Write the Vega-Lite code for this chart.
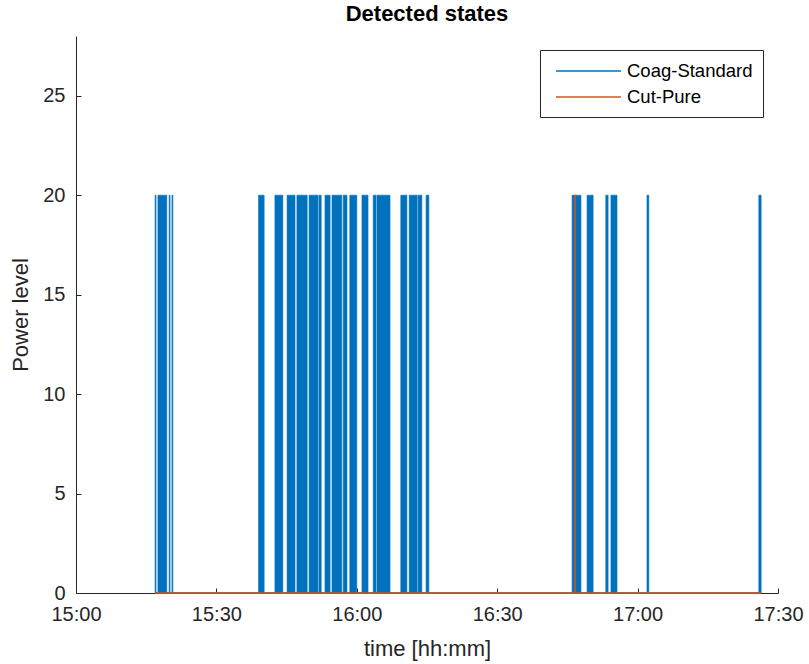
{
  "$schema": "https://vega.github.io/schema/vega-lite/v6.json",
  "width": 702,
  "height": 557,
  "autosize": {"type": "none"},
  "padding": {"left": 76, "top": 36, "right": 31, "bottom": 71},
  "background": "white",
  "title": {"text": "Detected states", "font": "Liberation Sans", "fontSize": 22, "fontWeight": "bold", "color": "#000000", "offset": 10, "anchor": "middle"},
  "config": {
    "view": {"stroke": null},
    "font": "Liberation Sans",
    "axis": {"grid": false, "domainColor": "#262626", "tickColor": "#262626", "labelColor": "#262626", "titleColor": "#262626", "labelFont": "Liberation Sans", "titleFont": "Liberation Sans", "labelFontSize": 20, "titleFontSize": 22, "titleFontWeight": "normal", "domainWidth": 1, "tickWidth": 1}
  },
  "datasets": {
    "states": [
      {"series": "Coag-Standard", "start": "2020-01-01T15:16:54", "end": "2020-01-01T15:17:06", "power": 20},
      {"series": "Coag-Standard", "start": "2020-01-01T15:17:30", "end": "2020-01-01T15:19:24", "power": 20},
      {"series": "Coag-Standard", "start": "2020-01-01T15:19:54", "end": "2020-01-01T15:20:06", "power": 20},
      {"series": "Coag-Standard", "start": "2020-01-01T15:20:30", "end": "2020-01-01T15:20:42", "power": 20},
      {"series": "Coag-Standard", "start": "2020-01-01T15:39:00", "end": "2020-01-01T15:40:12", "power": 20},
      {"series": "Coag-Standard", "start": "2020-01-01T15:42:30", "end": "2020-01-01T15:44:12", "power": 20},
      {"series": "Coag-Standard", "start": "2020-01-01T15:45:06", "end": "2020-01-01T15:46:48", "power": 20},
      {"series": "Coag-Standard", "start": "2020-01-01T15:47:12", "end": "2020-01-01T15:49:24", "power": 20},
      {"series": "Coag-Standard", "start": "2020-01-01T15:49:48", "end": "2020-01-01T15:51:42", "power": 20},
      {"series": "Coag-Standard", "start": "2020-01-01T15:51:54", "end": "2020-01-01T15:52:24", "power": 20},
      {"series": "Coag-Standard", "start": "2020-01-01T15:53:12", "end": "2020-01-01T15:54:18", "power": 20},
      {"series": "Coag-Standard", "start": "2020-01-01T15:54:42", "end": "2020-01-01T15:56:48", "power": 20},
      {"series": "Coag-Standard", "start": "2020-01-01T15:57:06", "end": "2020-01-01T15:57:54", "power": 20},
      {"series": "Coag-Standard", "start": "2020-01-01T15:58:30", "end": "2020-01-01T16:00:00", "power": 20},
      {"series": "Coag-Standard", "start": "2020-01-01T16:01:06", "end": "2020-01-01T16:02:24", "power": 20},
      {"series": "Coag-Standard", "start": "2020-01-01T16:03:30", "end": "2020-01-01T16:04:06", "power": 20},
      {"series": "Coag-Standard", "start": "2020-01-01T16:04:18", "end": "2020-01-01T16:07:06", "power": 20},
      {"series": "Coag-Standard", "start": "2020-01-01T16:09:24", "end": "2020-01-01T16:10:42", "power": 20},
      {"series": "Coag-Standard", "start": "2020-01-01T16:11:12", "end": "2020-01-01T16:12:54", "power": 20},
      {"series": "Coag-Standard", "start": "2020-01-01T16:13:06", "end": "2020-01-01T16:13:54", "power": 20},
      {"series": "Coag-Standard", "start": "2020-01-01T16:14:48", "end": "2020-01-01T16:15:24", "power": 20},
      {"series": "Coag-Standard", "start": "2020-01-01T16:46:00", "end": "2020-01-01T16:47:54", "power": 20},
      {"series": "Coag-Standard", "start": "2020-01-01T16:49:12", "end": "2020-01-01T16:50:30", "power": 20},
      {"series": "Coag-Standard", "start": "2020-01-01T16:53:12", "end": "2020-01-01T16:53:42", "power": 20},
      {"series": "Coag-Standard", "start": "2020-01-01T16:54:18", "end": "2020-01-01T16:55:36", "power": 20},
      {"series": "Coag-Standard", "start": "2020-01-01T17:02:00", "end": "2020-01-01T17:02:24", "power": 20},
      {"series": "Coag-Standard", "start": "2020-01-01T17:25:54", "end": "2020-01-01T17:26:24", "power": 20},
      {"series": "Cut-Pure", "start": "2020-01-01T16:46:30", "end": "2020-01-01T16:46:42", "power": 20}
    ],
    "baseline": [
      {"series": "Coag-Standard", "time": "2020-01-01T15:16:54", "power": 0},
      {"series": "Coag-Standard", "time": "2020-01-01T17:26:24", "power": 0},
      {"series": "Cut-Pure", "time": "2020-01-01T15:16:54", "power": 0},
      {"series": "Cut-Pure", "time": "2020-01-01T17:26:24", "power": 0}
    ]
  },
  "encoding": {
    "color": {
      "field": "series", "type": "nominal",
      "scale": {"domain": ["Coag-Standard", "Cut-Pure"], "range": ["#0072BD", "#D95319"]},
      "legend": {"title": null, "orient": "none", "legendX": 464, "legendY": 14, "symbolType": "M-1,0H5.5", "symbolSize": 400, "symbolStrokeWidth": 1.5, "symbolOffset": 5, "labelFontSize": 18.5, "labelFont": "Liberation Sans", "labelColor": "#000000", "strokeColor": "#262626", "fillColor": "white", "padding": 10, "rowPadding": 5, "labelOffset": 50}
    }
  },
  "layer": [
    {
      "data": {"name": "states"},
      "mark": {"type": "rect", "strokeWidth": 0.6},
      "encoding": {
        "x": {"field": "start", "type": "temporal",
          "scale": {"domain": [{"year": 2020, "month": 1, "date": 1, "hours": 15}, {"year": 2020, "month": 1, "date": 1, "hours": 17, "minutes": 30}]},
          "axis": {"title": "time [hh:mm]", "format": "%H:%M", "values": [
            {"year": 2020, "month": 1, "date": 1, "hours": 15},
            {"year": 2020, "month": 1, "date": 1, "hours": 15, "minutes": 30},
            {"year": 2020, "month": 1, "date": 1, "hours": 16},
            {"year": 2020, "month": 1, "date": 1, "hours": 16, "minutes": 30},
            {"year": 2020, "month": 1, "date": 1, "hours": 17},
            {"year": 2020, "month": 1, "date": 1, "hours": 17, "minutes": 30}
          ], "tickSize": -5, "labelPadding": 16, "titlePadding": 14, "labelFlush": false}},
        "x2": {"field": "end"},
        "y": {"field": "power", "type": "quantitative",
          "scale": {"domain": [0, 28], "nice": false},
          "axis": {"title": "Power level", "values": [0, 5, 10, 15, 20, 25], "tickSize": -5, "labelPadding": 16, "titlePadding": 10}},
        "y2": {"datum": 0},
        "stroke": {"field": "series", "type": "nominal", "legend": null, "scale": {"domain": ["Coag-Standard", "Cut-Pure"], "range": ["#0072BD", "#D95319"]}}
      }
    },
    {
      "data": {"name": "baseline"},
      "mark": {"type": "line", "strokeWidth": 1.5},
      "encoding": {
        "x": {"field": "time", "type": "temporal"},
        "y": {"field": "power", "type": "quantitative"},
        "detail": {"field": "series"}
      }
    }
  ]
}
